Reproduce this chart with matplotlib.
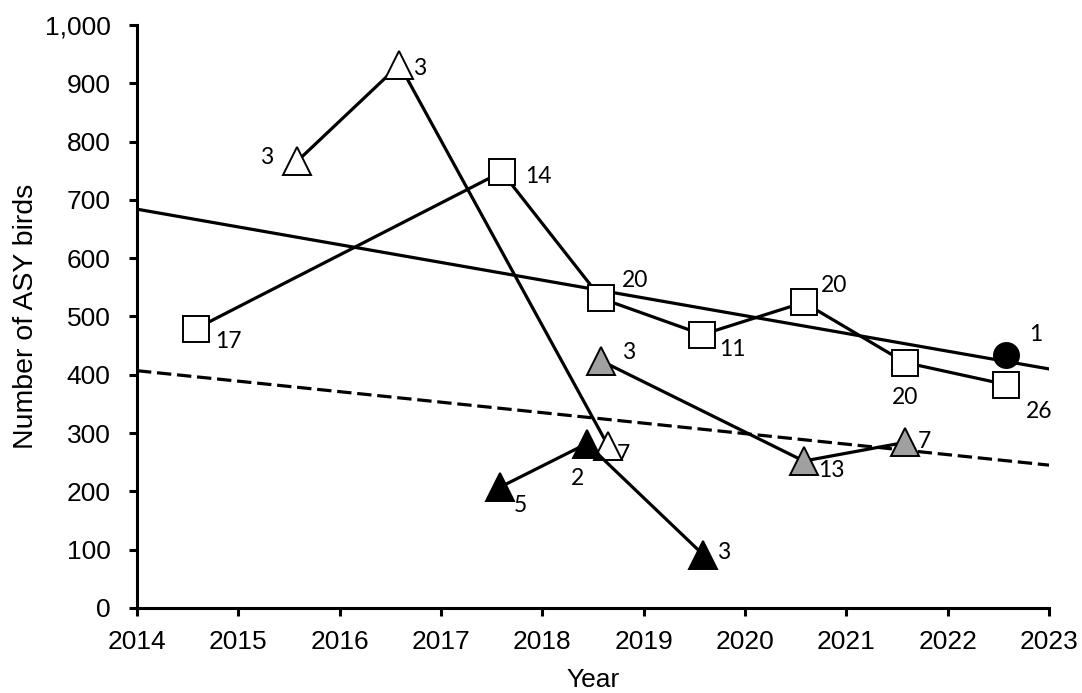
import matplotlib.pyplot as plt
from matplotlib.ticker import FuncFormatter

# data
sq_years = [2014.58, 2017.6, 2018.58, 2019.58, 2020.58, 2021.58, 2022.58]
sq_birds = [479, 748, 531, 469, 524, 421, 383]
sq_n = ["17", "14", "20", "11", "20", "20", "26"]

wt_years = [2015.58, 2016.59, 2018.65]
wt_birds = [766, 932, 278]
wt_n = ["3", "3", "7"]

gt_years = [2018.58, 2020.58, 2021.58]
gt_birds = [424, 252, 284]
gt_n = ["3", "13", "7"]

bt_years = [2017.58, 2018.44, 2019.59]
bt_birds = [207, 282, 91]
bt_n = ["5", "2", "3"]

circ_years = [2022.58]
circ_birds = [434]
circ_n = ["1"]

trend_years = [2014, 2023]
trend_solid = [684, 410]
trend_dashed = [407, 245]

# label offsets in points (dx, dy, ha)
sq_off = [(14, -9, "left"), (17, -3, "left"), (15, 13, "left"), (12, -11, "left"),
          (12, 12, "left"), (0, -25, "center"), (14, -19, "left")]
wt_off = [(-17, 3, "right"), (10, -3, "left"), (6, -6, "left")]
gt_off = [(15, 6, "left"), (10, -7, "left"), (9, 1, "left")]
bt_off = [(10, -13, "left"), (-7, -25, "center"), (10, 2, "left")]
circ_off = [(16, 15, "left")]

fig = plt.figure(figsize=(10.82, 6.93), dpi=100)
ax = fig.add_axes([0.1266, 0.1227, 0.8429, 0.8413])

lw = 2.3
mew = 1.4

ax.plot(trend_years, trend_solid, color="black", lw=lw, zorder=1)
ax.plot(trend_years, trend_dashed, color="black", lw=lw, linestyle=(0, (4.5, 1.8)), zorder=1)

def series(xs, ys, marker, face, size):
    ax.plot(xs, ys, color="black", lw=lw, marker=marker, markersize=size,
            markerfacecolor=face, markeredgecolor="black", markeredgewidth=mew, zorder=2)

series(sq_years, sq_birds, "s", "white", 18.5)
series(wt_years, wt_birds, "^", "white", 19.5)
series(gt_years, gt_birds, "^", "#a0a0a0", 19.5)
series(bt_years, bt_birds, "^", "black", 19.5)
series(circ_years, circ_birds, "o", "black", 18)

def labels(xs, ys, ns, offs):
    for x, y, n, (dx, dy, ha) in zip(xs, ys, ns, offs):
        ax.annotate(n, (x, y), xytext=(dx, dy), textcoords="offset points",
                    ha=ha, va="center", fontsize=16.5, family="Lato", zorder=3)

labels(sq_years, sq_birds, sq_n, sq_off)
labels(wt_years, wt_birds, wt_n, wt_off)
labels(gt_years, gt_birds, gt_n, gt_off)
labels(bt_years, bt_birds, bt_n, bt_off)
labels(circ_years, circ_birds, circ_n, circ_off)

ax.set_xlim(2014, 2023)
ax.set_ylim(0, 1000)
ax.set_xticks(range(2014, 2024))
ax.set_yticks(range(0, 1001, 100))
ax.yaxis.set_major_formatter(FuncFormatter(lambda v, p: f"{int(v):,}"))

for s in ["top", "right"]:
    ax.spines[s].set_visible(False)
for s in ["left", "bottom"]:
    ax.spines[s].set_linewidth(2.2)
ax.tick_params(direction="out", length=6, width=2.2, labelsize=19)
ax.tick_params(axis="x", pad=10)
ax.tick_params(axis="y", pad=13)
for t in ax.get_xticklabels() + ax.get_yticklabels():
    t.set_family("Liberation Sans")

ax.set_xlabel("Year", fontsize=19, family="Liberation Sans")
ax.set_ylabel("Number of ASY birds", fontsize=20.5, family="Liberation Sans")
ax.xaxis.set_label_coords(0.5, -0.103)
ax.yaxis.set_label_coords(-0.107, 0.5)

fig.savefig("out.png", dpi=100)
